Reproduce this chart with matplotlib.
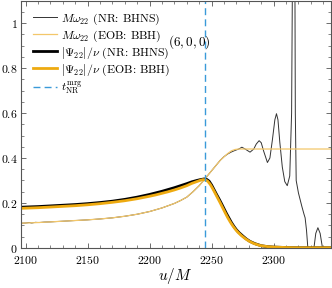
import matplotlib
matplotlib.use("Agg")
import matplotlib.pyplot as plt
from matplotlib.ticker import MultipleLocator, FuncFormatter

plt.rcParams['mathtext.fontset'] = 'cm'
plt.rcParams['font.family'] = ['cmr10', 'DejaVu Serif']
plt.rcParams['axes.formatter.use_mathtext'] = True

# |Psi22|/nu NR (BHNS)
u_psi_nr = [2096, 2100, 2110, 2120, 2130, 2140, 2150, 2160, 2170, 2180, 2190, 2200, 2205, 2210,
            2215, 2220, 2225, 2230, 2234, 2238, 2241, 2244, 2246, 2248, 2250, 2252, 2254, 2256,
            2258, 2260, 2262, 2264, 2266, 2268, 2270, 2272, 2275, 2278, 2281, 2285, 2290, 2295,
            2300, 2310, 2320, 2346]
psi_nr = [0.181, 0.182, 0.184, 0.187, 0.190, 0.193, 0.197, 0.202, 0.208, 0.216, 0.226, 0.238, 0.245,
          0.252, 0.260, 0.268, 0.277, 0.286, 0.294, 0.300, 0.304, 0.307, 0.305, 0.297, 0.280, 0.259,
          0.238, 0.218, 0.197, 0.175, 0.153, 0.133, 0.113, 0.096, 0.081, 0.069, 0.054, 0.040, 0.029,
          0.019, 0.010, 0.006, 0.004, 0.002, 0.001, 0.001]

# |Psi22|/nu EOB (BBH)
u_psi_eob = [2096, 2100, 2110, 2120, 2130, 2140, 2150, 2160, 2170, 2180, 2190, 2200, 2205, 2210,
             2215, 2220, 2225, 2230, 2234, 2238, 2241, 2243, 2245, 2247, 2249, 2251, 2253, 2255,
             2257, 2259, 2261, 2263, 2265, 2267, 2269, 2271, 2274, 2277, 2280, 2284, 2289, 2295,
             2300, 2310, 2320, 2346]
psi_eob = [0.176, 0.177, 0.179, 0.182, 0.185, 0.188, 0.192, 0.197, 0.203, 0.210, 0.219, 0.230, 0.236,
           0.243, 0.250, 0.258, 0.267, 0.277, 0.287, 0.295, 0.301, 0.304, 0.303, 0.296, 0.282, 0.263,
           0.242, 0.221, 0.200, 0.178, 0.156, 0.135, 0.116, 0.099, 0.084, 0.071, 0.055, 0.042, 0.031,
           0.020, 0.011, 0.006, 0.004, 0.002, 0.001, 0.001]

# M omega22 NR (BHNS)
u_om_nr = [2096, 2100, 2103, 2105, 2108, 2111, 2115, 2120, 2130, 2140, 2150, 2160, 2170, 2180, 2190,
           2200, 2205, 2210, 2215, 2220, 2225, 2230, 2235, 2240, 2244.6, 2248, 2251, 2254, 2257, 2260,
           2263, 2266, 2269, 2272, 2274.4, 2277, 2281, 2284, 2286, 2288.3, 2290, 2292, 2295, 2297,
           2299, 2301, 2302.3, 2303.5, 2305, 2307, 2309, 2311, 2313, 2314.5, 2315.5, 2316.3, 2317,
           2317.5, 2318.2, 2320, 2322.8, 2324.5, 2325.4, 2326.5, 2327.6, 2328.5, 2330, 2331.5, 2332.5,
           2334, 2335.7, 2337.5, 2339.4, 2341, 2346]
om_nr = [0.110, 0.111, 0.113, 0.111, 0.114, 0.113, 0.115, 0.116, 0.119, 0.122, 0.125, 0.129, 0.134,
         0.141, 0.150, 0.162, 0.170, 0.178, 0.188, 0.198, 0.211, 0.226, 0.250, 0.277, 0.307, 0.330,
         0.350, 0.370, 0.390, 0.406, 0.418, 0.427, 0.434, 0.440, 0.448, 0.440, 0.426, 0.440, 0.462,
         0.477, 0.468, 0.430, 0.380, 0.400, 0.480, 0.570, 0.597, 0.570, 0.470, 0.360, 0.295, 0.277,
         0.320, 0.600, 1.500, 3.000, 1.500, 0.600, 0.300, 0.245, 0.184, 0.150, 0.134, 0.080, 0.000,
         -0.050, -0.080, -0.050, 0.000, 0.065, 0.090, 0.065, 0.000, -0.050, -0.100]

# M omega22 EOB (BBH)
u_om_eob = [2096, 2100, 2110, 2120, 2130, 2140, 2150, 2160, 2170, 2180, 2190, 2200, 2205, 2210, 2215,
            2220, 2225, 2230, 2235, 2240, 2244.6, 2248, 2251, 2254, 2257, 2260, 2263, 2266, 2269, 2272,
            2346]
om_eob = [0.110, 0.111, 0.113, 0.116, 0.119, 0.122, 0.125, 0.129, 0.134, 0.141, 0.150, 0.162, 0.170,
          0.178, 0.188, 0.198, 0.211, 0.226, 0.250, 0.277, 0.307, 0.330, 0.350, 0.370, 0.390, 0.405,
          0.420, 0.432, 0.438, 0.440, 0.440]

t_mrg = 2244.6
annot = r'$(6,0,0)$'

fig = plt.figure(figsize=(3.32, 2.88), dpi=100)
ax = fig.add_axes([0.062, 0.139, 0.934, 0.859])

ax.plot(u_om_nr, om_nr, color='#333333', lw=0.7, label=r'$M\omega_{22}$ (NR: BHNS)')
ax.plot(u_om_eob, om_eob, color='#F3C76A', lw=0.9, label=r'$M\omega_{22}$ (EOB: BBH)')
ax.plot(u_psi_nr, psi_nr, color='black', lw=2.0, label=r'$|\Psi_{22}|/\nu$ (NR: BHNS)')
ax.plot(u_psi_eob, psi_eob, color='#EEAA10', lw=2.0, label=r'$|\Psi_{22}|/\nu$ (EOB: BBH)')
ax.axvline(t_mrg, color='#3A9AD9', lw=1.0, ls=(0, (5, 3)), label=r'$t_{\rm NR}^{\rm mrg}$')

ax.text(2215, 0.917, annot, fontsize=9.5, va='center', ha='left')

ax.set_xlim(2096, 2346)
ax.set_ylim(0, 1.1)
ax.xaxis.set_major_locator(MultipleLocator(50))
ax.xaxis.set_minor_locator(MultipleLocator(10))
ax.yaxis.set_major_locator(MultipleLocator(0.2))
ax.yaxis.set_minor_locator(MultipleLocator(0.05))
ax.xaxis.set_major_formatter(FuncFormatter(lambda v, p: r'$%d$' % round(v)))
ax.yaxis.set_major_formatter(FuncFormatter(lambda v, p: r'$%g$' % round(v, 2)))
ax.tick_params(which='both', direction='in', top=True, right=True, labelsize=8.5, color='#555555')
ax.tick_params(axis='x', pad=4)
ax.tick_params(axis='y', pad=2)
ax.tick_params(which='major', length=3.5, width=0.6)
ax.tick_params(which='minor', length=2, width=0.5)
for s in ax.spines.values():
    s.set_color('#555555')
    s.set_linewidth(0.8)

ax.set_xlabel(r'$u/M$', fontsize=11, labelpad=0)

leg = ax.legend(loc='upper left', frameon=False, fontsize=8.5, handlelength=2.0,
                handletextpad=0.3, labelspacing=0.15, borderaxespad=0.3,
                bbox_to_anchor=(0.015, 0.99))

fig.savefig('out.png', dpi=100)
